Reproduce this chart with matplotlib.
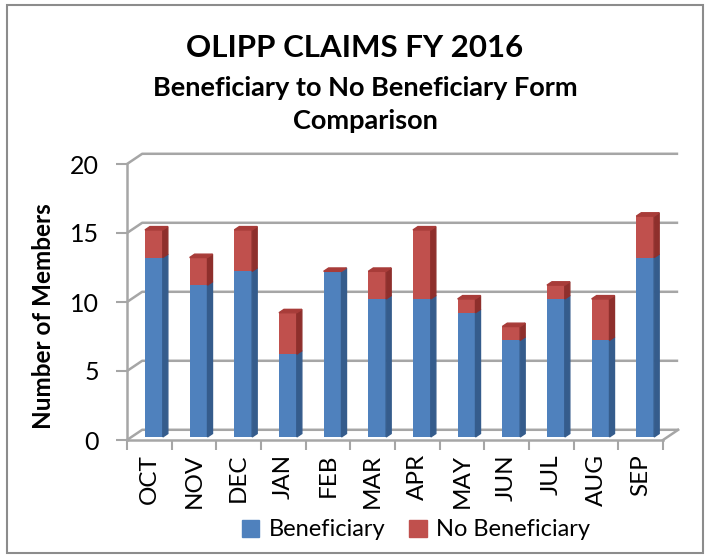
import matplotlib.pyplot as plt
from matplotlib.patches import Polygon, Patch, Rectangle

# data
months = ['OCT', 'NOV', 'DEC', 'JAN', 'FEB', 'MAR', 'APR', 'MAY', 'JUN', 'JUL', 'AUG', 'SEP']
beneficiary = [13, 11, 12, 6, 12, 10, 10, 9, 7, 10, 7, 13]
no_beneficiary = [2, 2, 3, 3, 0, 2, 5, 1, 1, 1, 3, 3]
yticks = [0, 5, 10, 15, 20]

plt.rcParams['font.family'] = ['Lato', 'DejaVu Sans']

blue, blue_side = '#4F81BD', '#355C8C'
red, red_side, red_top = '#C0504D', '#8E2F2C', '#A83C39'
grid_c = '#A6A6A6'

W, H = 710, 558
fig = plt.figure(figsize=(W / 100, H / 100), dpi=100)
ax = fig.add_axes([127 / W, 1 - 440 / H, 536 / W, 276 / H])
ax.set_xlim(-0.5, len(months) - 0.5)
ax.set_ylim(0, 20)

# depth of the fake 3d box, in data units
dx, dy = 0.34, 0.74
f1, f2 = 0.3, 0.63
w = 0.4
xmax = len(months) - 0.5

# back wall gridlines + left wall diagonals
for y in yticks:
    ax.plot([-0.5, -0.5 + dx, xmax + dx], [y, y + dy, y + dy], color=grid_c, lw=1.8,
            clip_on=False, zorder=1, solid_capstyle='butt')
# floor right edge
ax.plot([xmax, xmax + dx], [0, dy], color=grid_c, lw=1.8, clip_on=False, zorder=1)

for sp in ['top', 'right']:
    ax.spines[sp].set_visible(False)
for sp in ['left', 'bottom']:
    ax.spines[sp].set_color(grid_c)
    ax.spines[sp].set_linewidth(1.8)

ddx, ddy = dx * (f2 - f1), dy * (f2 - f1)
for i, (b, n) in enumerate(zip(beneficiary, no_beneficiary)):
    x0 = i + dx * f1 - w / 2
    base = dy * f1
    ax.bar(x0, b, width=w, bottom=base, align='edge', color=blue, zorder=3)
    ax.bar(x0, n, width=w, bottom=base + b, align='edge', color=red, zorder=3)
    xr = x0 + w
    for lo, hi, c in [(base, base + b, blue_side), (base + b, base + b + n, red_side)]:
        if hi > lo:
            ax.add_patch(Polygon([(xr, lo), (xr + ddx, lo + ddy), (xr + ddx, hi + ddy), (xr, hi)],
                                 closed=True, color=c, zorder=3))
    top = base + b + n
    ax.add_patch(Polygon([(x0, top), (xr, top), (xr + ddx, top + ddy), (x0 + ddx, top + ddy)],
                         closed=True, color=red_top, zorder=3))

ax.set_yticks(yticks)
ax.set_yticklabels([str(t) for t in yticks], fontsize=18)
ax.tick_params(axis='y', length=8, width=1.5, color=grid_c, pad=12)
ax.set_xticks(range(len(months)))
ax.set_xticklabels(months, rotation=90, fontsize=17.5)
ax.set_xticks([i - 0.5 for i in range(len(months) + 1)], minor=True)
ax.tick_params(axis='x', which='major', length=0, pad=10)
ax.tick_params(axis='x', which='minor', length=7, width=1.5, color=grid_c)
ax.set_ylabel('Number of Members', fontsize=17.5, fontweight='bold')
ax.yaxis.set_label_coords(-0.134, 0.45)

fig.text(355 / W, 1 - 48 / H, 'OLIPP CLAIMS FY 2016', ha='center', va='center',
         fontsize=22.5, fontweight='bold')
fig.text(365 / W, 1 - 88 / H, 'Beneficiary to No Beneficiary Form', ha='center', va='center',
         fontsize=19.5, fontweight='bold')
fig.text(365 / W, 1 - 121 / H, 'Comparison', ha='center', va='center',
         fontsize=19.5, fontweight='bold')

fig.legend(handles=[Patch(color=blue, label='Beneficiary'), Patch(color=red, label='No Beneficiary')],
           loc='center', bbox_to_anchor=(416 / W, 1 - 530 / H), ncol=2, frameon=False,
           fontsize=17, handlelength=0.75, handleheight=0.75, handletextpad=0.4, columnspacing=1.0)

fig.patches.append(Rectangle((7 / W, 5 / H), 696 / W, 548 / H, transform=fig.transFigure,
                             fill=False, edgecolor='#8C8C8C', lw=1.5))

fig.savefig('out.png', dpi=100)
